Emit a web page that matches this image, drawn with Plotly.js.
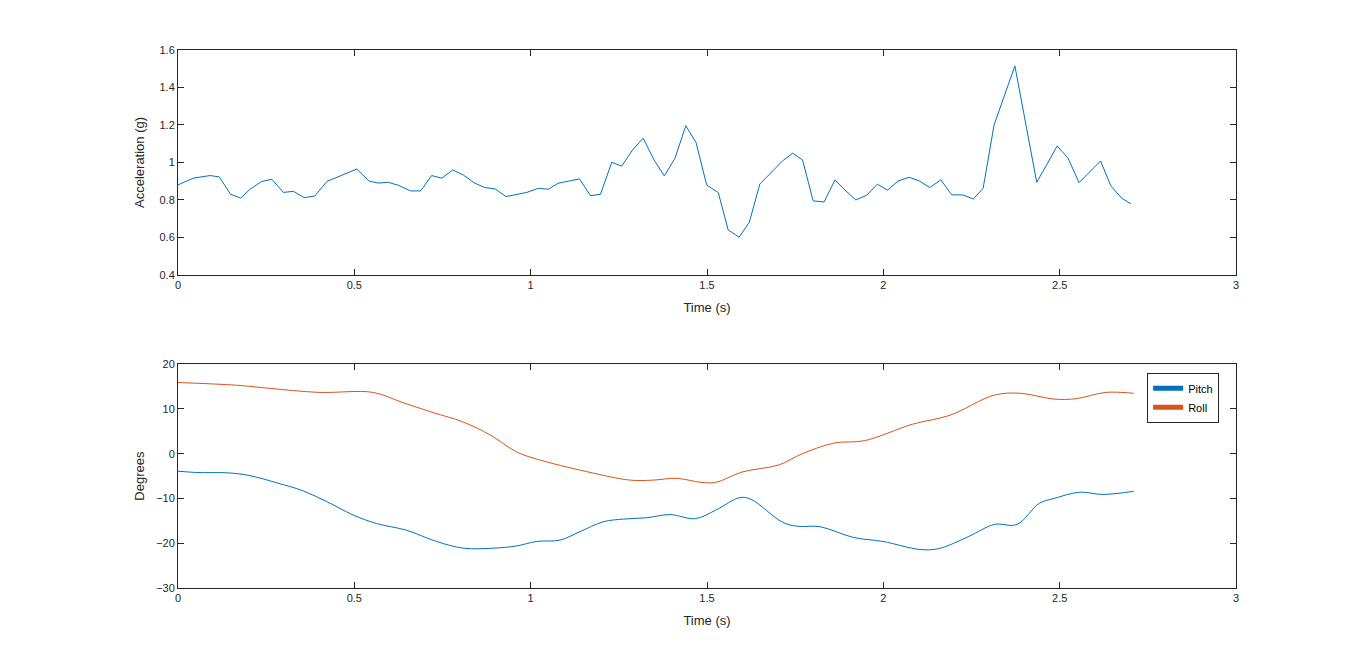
<!DOCTYPE html>
<html>
<head>
<meta charset="utf-8">
<script src="https://cdn.plot.ly/plotly-3.0.1.min.js"></script>
<style>body{margin:0;background:#fff}#chart{width:1366px;height:662px}</style>
</head>
<body>
<div id="chart"></div>
<script>
// acceleration samples
const accT = [0, 0.043, 0.091, 0.117, 0.149, 0.178, 0.204, 0.237, 0.266, 0.299, 0.327, 0.358, 0.388, 0.422,
  0.507, 0.542, 0.568, 0.596, 0.625, 0.660, 0.688, 0.719, 0.748, 0.779, 0.809, 0.842, 0.870, 0.899, 0.930,
  0.960, 0.989, 1.022, 1.050, 1.078, 1.111, 1.138, 1.170, 1.198, 1.230, 1.258, 1.289, 1.319, 1.350, 1.379,
  1.409, 1.440, 1.469, 1.499, 1.532, 1.560, 1.591, 1.620, 1.650, 1.681, 1.714, 1.743, 1.771, 1.801, 1.832,
  1.863, 1.891, 1.922, 1.953, 1.983, 2.012, 2.042, 2.073, 2.102, 2.132, 2.163, 2.194, 2.225, 2.255, 2.283,
  2.314, 2.373, 2.435, 2.463, 2.493, 2.524, 2.555, 2.616, 2.645, 2.676, 2.702];
const accel = [0.88, 0.916, 0.93, 0.923, 0.83, 0.81, 0.857, 0.898, 0.91, 0.84, 0.846, 0.812, 0.821, 0.898,
  0.965, 0.90, 0.89, 0.894, 0.878, 0.848, 0.848, 0.93, 0.916, 0.96, 0.933, 0.889, 0.866, 0.859, 0.818,
  0.83, 0.84, 0.862, 0.857, 0.889, 0.903, 0.912, 0.823, 0.83, 1.001, 0.98, 1.067, 1.129, 1.013, 0.928,
  1.022, 1.196, 1.106, 0.88, 0.839, 0.64, 0.601, 0.681, 0.885, 0.942, 1.008, 1.049, 1.013, 0.795, 0.789,
  0.907, 0.853, 0.80, 0.825, 0.884, 0.852, 0.901, 0.921, 0.901, 0.866, 0.907, 0.827, 0.827, 0.805, 0.862,
  1.2, 1.515, 0.894, 0.987, 1.088, 1.022, 0.892, 1.008, 0.875, 0.809, 0.779];

// attitude samples
const pitchT = [0, 0.053, 0.147, 0.204, 0.280, 0.355, 0.422, 0.497, 0.563, 0.648, 0.733, 0.809, 0.894, 0.960,
  1.017, 1.083, 1.140, 1.206, 1.263, 1.329, 1.395, 1.467, 1.525, 1.593, 1.625, 1.714, 1.756, 1.820, 1.915,
  1.999, 2.104, 2.157, 2.242, 2.315, 2.379, 2.442, 2.484, 2.557, 2.621, 2.710];
const pitch = [-3.9, -4.2, -4.3, -4.9, -6.5, -8.3, -10.7, -13.7, -15.6, -17.1, -19.6, -21.1, -21.1, -20.6,
  -19.6, -19.3, -17.4, -15.2, -14.6, -14.3, -13.6, -14.5, -12.6, -9.8, -10.2, -15.3, -16.2, -16.3, -18.7,
  -19.6, -21.4, -21.2, -18.5, -15.8, -15.8, -11.1, -10.0, -8.6, -9.1, -8.4];
const rollT = [0, 0.166, 0.26, 0.40, 0.553, 0.638, 0.723, 0.808, 0.885, 0.96, 1.017, 1.159, 1.282, 1.347,
  1.414, 1.483, 1.525, 1.599, 1.704, 1.767, 1.862, 1.946, 2.083, 2.189, 2.315, 2.389, 2.484, 2.547, 2.631, 2.710];
const roll = [15.9, 15.3, 14.6, 13.7, 13.7, 11.4, 9.2, 7.1, 4.2, 0.4, -1.2, -4.0, -5.9, -5.9,
  -5.5, -6.4, -6.4, -4.1, -2.5, -0.1, 2.4, 2.9, 6.6, 8.6, 13.1, 13.5, 12.2, 12.3, 13.7, 13.5];

const fnt = { family: 'Liberation Sans, Arial, sans-serif', size: 11, color: '#262626' };
const axisBase = {
  range: [0, 3], dtick: 0.5, showgrid: false, zeroline: false,
  showline: true, linecolor: '#262626', linewidth: 1, mirror: 'ticks',
  ticks: 'inside', ticklen: 6, tickcolor: '#262626',
  tickfont: fnt
};
const titleFont = { size: 13, color: '#262626' };

const data = [
  { x: accT, y: accel, type: 'scatter', mode: 'lines', line: { color: '#0072BD', width: 1 },
    showlegend: false, xaxis: 'x', yaxis: 'y' },
  { x: pitchT, y: pitch, name: 'Pitch', type: 'scatter', mode: 'lines', line: { color: '#0072BD', width: 1, shape: 'spline' },
    xaxis: 'x2', yaxis: 'y2' },
  { x: rollT, y: roll, name: 'Roll', type: 'scatter', mode: 'lines', line: { color: '#D95319', width: 1, shape: 'spline' },
    xaxis: 'x2', yaxis: 'y2' }
];

const layout = {
  width: 1366, height: 662,
  margin: { l: 178, r: 130, t: 50, b: 74 },
  paper_bgcolor: '#fff', plot_bgcolor: '#fff',
  font: fnt,
  xaxis: Object.assign({}, axisBase, { anchor: 'y', domain: [0, 1],
    title: { text: 'Time (s)', font: titleFont, standoff: 12 } }),
  yaxis: Object.assign({}, axisBase, { anchor: 'x', domain: [0.582, 1], range: [0.4, 1.6], dtick: 0.2,
    title: { text: 'Acceleration (g)', font: titleFont, standoff: 11 } }),
  xaxis2: Object.assign({}, axisBase, { anchor: 'y2', domain: [0, 1],
    title: { text: 'Time (s)', font: titleFont, standoff: 12 } }),
  yaxis2: Object.assign({}, axisBase, { anchor: 'x2', domain: [0, 0.416], range: [-30, 20], dtick: 10,
    title: { text: 'Degrees', font: titleFont, standoff: 8 } }),
  legend: { x: 0.916, y: 0.4, xanchor: 'left', yanchor: 'top', bgcolor: '#fff',
    bordercolor: '#262626', borderwidth: 1, font: { size: 11, color: '#000' },
    tracegroupgap: 0, itemwidth: 30, itemsizing: 'constant' },
  showlegend: true
};

Plotly.newPlot('chart', data, layout, { displayModeBar: false, staticPlot: true });
</script>
</body>
</html>
